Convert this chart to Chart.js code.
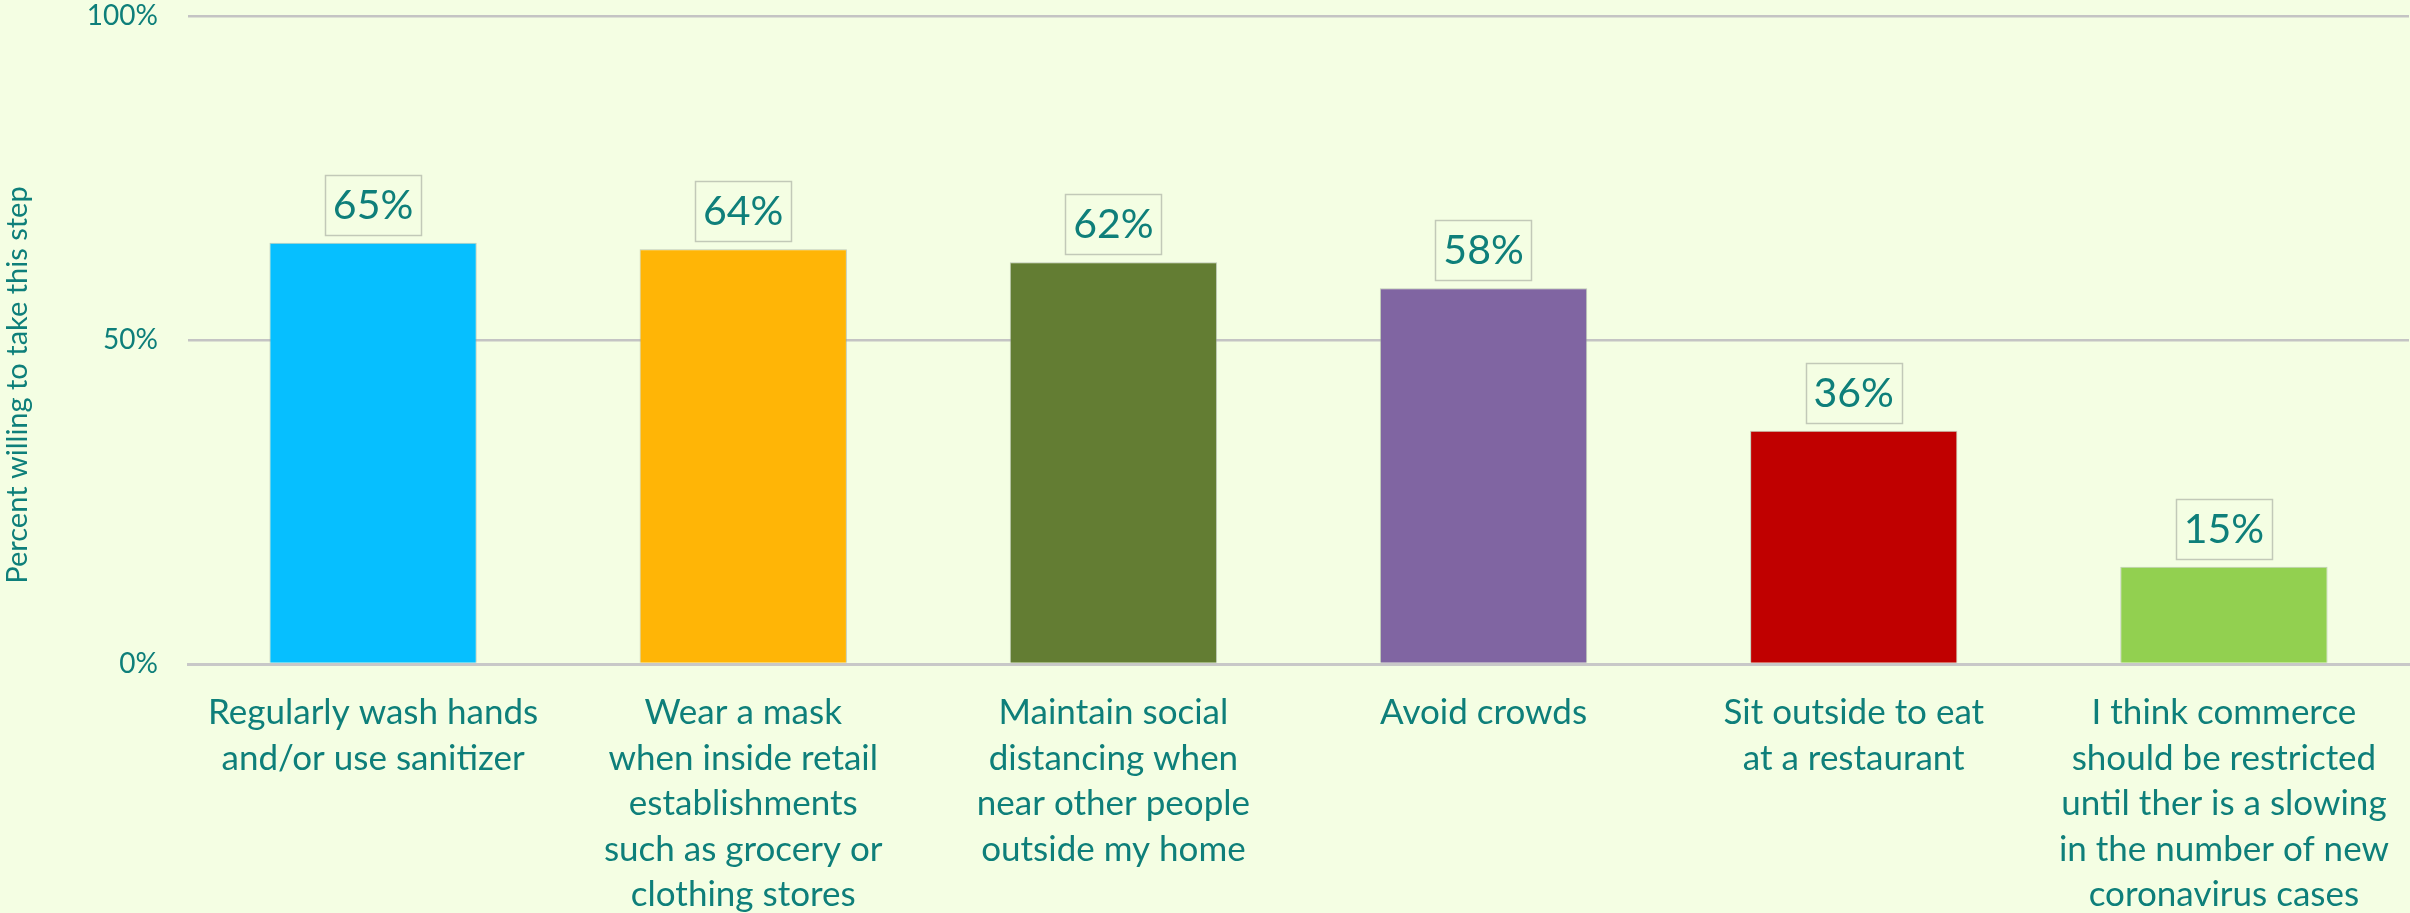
<!DOCTYPE html>
<html>
<head>
<meta charset="utf-8">
<script src="https://cdn.jsdelivr.net/npm/chart.js@4/dist/chart.umd.min.js"></script>
<style>
  html, body { margin: 0; padding: 0; background: #F4FEE3; }
  #wrap { width: 2410px; height: 913px; }
  canvas { display: block; background: #F4FEE3; }
</style>
</head>
<body>
<div id="wrap"><canvas id="chart" width="2410" height="913"></canvas></div>
<script>
// Share of respondents willing to take each step
const categories = [
  ["Regularly wash hands", "and/or use sanitizer"],
  ["Wear a mask", "when inside retail", "establishments", "such as grocery or", "clothing stores"],
  ["Maintain social", "distancing when", "near other people", "outside my home"],
  ["Avoid crowds"],
  ["Sit outside to eat", "at a restaurant"],
  ["I think commerce", "should be restricted", "until ther is a slowing", "in the number of new", "coronavirus cases"]
];
const percentWilling = [65, 64, 62, 58, 36, 15];
const barColors = ["#06BFFF", "#FFB506", "#637D33", "#8065A2", "#C00000", "#92D050"];
const yTicks = [0, 50, 100];
const yTitle = "Percent willing to take this step";

const TEXT = "#0E7F7A";
const FONT = "Lato, 'Open Sans', sans-serif";

// Boxed value labels above each bar
const valueLabels = {
  id: "valueLabels",
  afterDatasetsDraw(chart) {
    const ctx = chart.ctx;
    const meta = chart.getDatasetMeta(0);
    ctx.save();
    ctx.font = "41px " + FONT;
    ctx.textAlign = "center";
    ctx.textBaseline = "middle";
    meta.data.forEach((bar, i) => {
      const txt = percentWilling[i] + "%";
      const w = ctx.measureText(txt).width + 16;
      const h = 60;
      const x = bar.x - w / 2;
      const y = bar.y - 8 - h;
      ctx.strokeStyle = "#C2C9B8";
      ctx.lineWidth = 1.5;
      ctx.strokeRect(Math.round(x) + 0.5, Math.round(y) + 0.5, Math.round(w), h);
      ctx.fillStyle = TEXT;
      ctx.fillText(txt, bar.x, y + h / 2 + 1);
    });
    ctx.restore();
  }
};

// Rotated y-axis title
const yAxisTitle = {
  id: "yAxisTitle",
  afterDraw(chart) {
    const ctx = chart.ctx;
    ctx.save();
    ctx.translate(18, 385);
    ctx.rotate(-Math.PI / 2);
    ctx.font = "29px " + FONT;
    ctx.fillStyle = TEXT;
    ctx.textAlign = "center";
    ctx.textBaseline = "middle";
    ctx.fillText(yTitle, 0, 0);
    ctx.restore();
  }
};

new Chart(document.getElementById("chart"), {
  type: "bar",
  data: {
    labels: categories,
    datasets: [{
      data: percentWilling,
      backgroundColor: barColors,
      borderColor: "rgba(150,160,150,0.55)",
      borderWidth: 1,
      categoryPercentage: 1,
      barPercentage: 0.56
    }]
  },
  options: {
    responsive: false,
    devicePixelRatio: 1,
    animation: false,
    layout: { padding: { top: 16, right: 1, bottom: 0, left: 0 } },
    plugins: {
      legend: { display: false },
      tooltip: { enabled: false }
    },
    scales: {
      x: {
        afterFit(scale) { scale.height = 249; },
        grid: { display: false },
        border: { color: "#C8C8C8", width: 3 },
        ticks: {
          color: TEXT,
          font: { family: FONT, size: 35, lineHeight: 1.3 },
          padding: 18,
          maxRotation: 0,
          autoSkip: false
        }
      },
      y: {
        min: 0,
        max: 100,
        afterFit(scale) {
          scale.width = 188;
          scale.paddingTop = 0;
          scale.paddingBottom = 0;
        },
        afterBuildTicks(scale) { scale.ticks = yTicks.map(v => ({ value: v })); },
        grid: { color: "#C4C4C4", lineWidth: 2.5, drawTicks: false },
        border: { display: false },
        ticks: {
          color: TEXT,
          font: { family: FONT, size: 28 },
          padding: 30,
          callback: v => v + "%"
        }
      }
    }
  },
  plugins: [valueLabels, yAxisTitle]
});
</script>
</body>
</html>
